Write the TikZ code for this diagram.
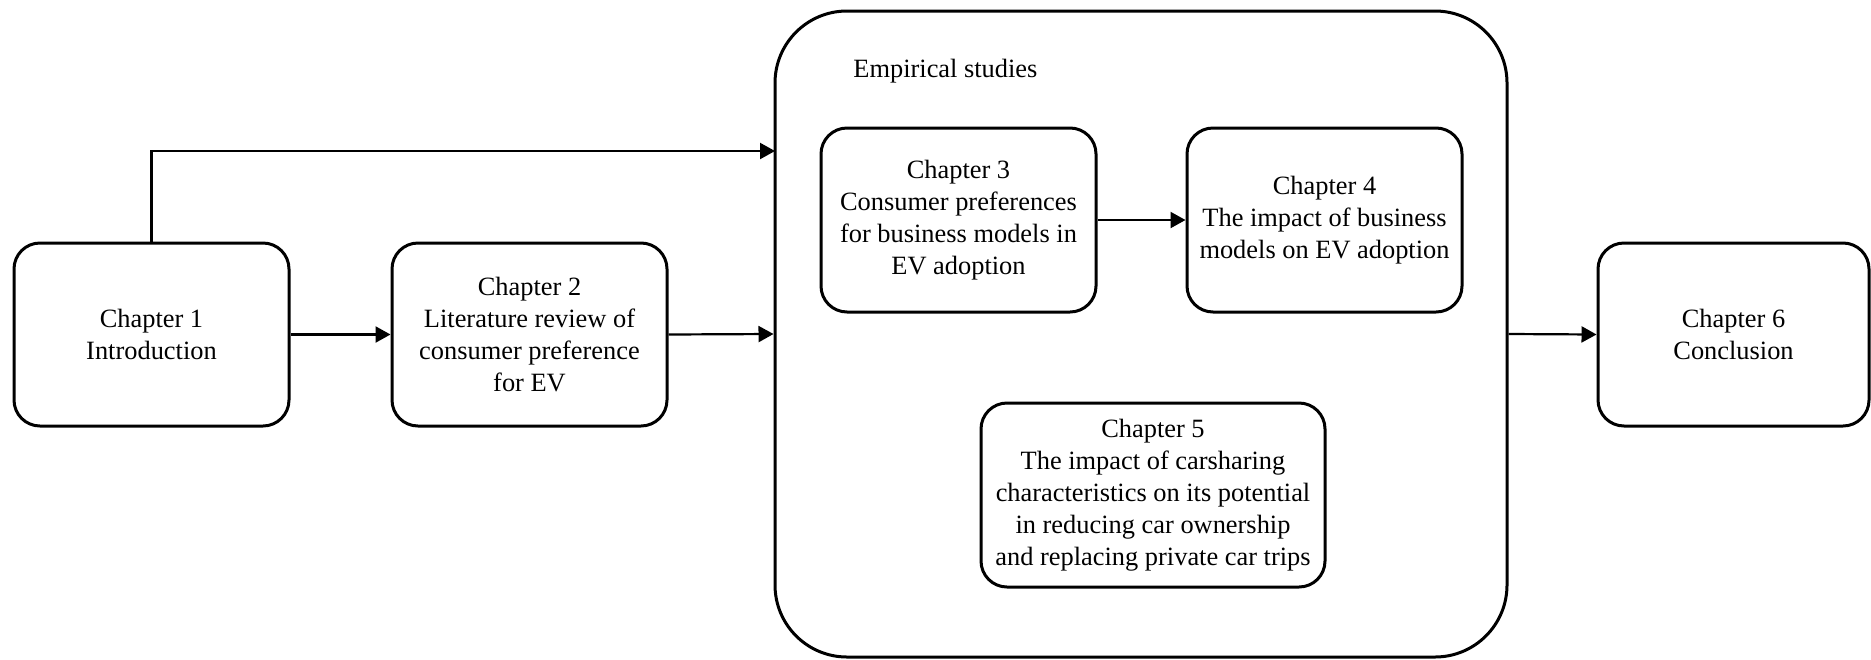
\documentclass[tikz,border=0pt]{standalone}
\usepackage{fontspec}
\setmainfont{Liberation Serif}
\usetikzlibrary{arrows.meta}

\begin{document}
\begin{tikzpicture}[x=0.5pt,y=-0.5pt,
  chapbox/.style={draw, line width=1.5pt, rounded corners=13pt, align=center,
    inner sep=0pt, font=\fontsize{13.2pt}{16pt}\selectfont,
    minimum width=137.5pt, minimum height=91.5pt},
  groupbox/.style={draw, line width=1.5pt, rounded corners=36pt, inner sep=0pt},
  arr/.style={line width=1.1pt, -{Triangle[length=7.5pt,width=8pt]}}
]
  % canvas
  \fill[white] (0,0) rectangle (1871,659);
  \useasboundingbox (0,0) rectangle (1871,659);

  % group of empirical chapters
  \node[groupbox, minimum width=366pt, minimum height=323pt] (emp) at (1141,334) {};
  \node[anchor=base west, inner sep=0pt, font=\fontsize{13.2pt}{16pt}\selectfont] (emptitle) at (853,77) {Empirical studies};

  % chapters
  \node[chapbox] (ch1) at (151.5,334.5) {Chapter 1\\Introduction};
  \node[chapbox] (ch2) at (529.5,334.5) {Chapter 2\\Literature review of\\consumer preference\\for EV};
  \node[chapbox, minimum height=92pt] (ch3) at (958.5,220) {Chapter 3\\Consumer preferences\\for business models in\\EV adoption};
  \node[chapbox, minimum height=92pt] (ch4) at (1324.5,220) {Chapter 4\\The impact of business\\models on EV adoption};
  \node[chapbox, minimum width=172pt, minimum height=92pt] (ch5) at (1153,495) {Chapter 5\\The impact of carsharing\\characteristics on its potential\\in reducing car ownership\\and replacing private car trips};
  \node[chapbox, minimum width=135.5pt] (ch6) at (1733.5,334.5) {Chapter 6\\Conclusion};

  % connectors
  \coordinate (empin) at (775,151);
  \draw[arr] (ch1.north) |- (empin);
  \draw[arr] (ch1.east) -- (ch2.west);
  \draw[arr] (ch2.east) -- (emp.west);
  \draw[arr] (ch3.east) -- (ch4.west);
  \draw[arr] (emp.east) -- (ch6.west);
\end{tikzpicture}
\end{document}
